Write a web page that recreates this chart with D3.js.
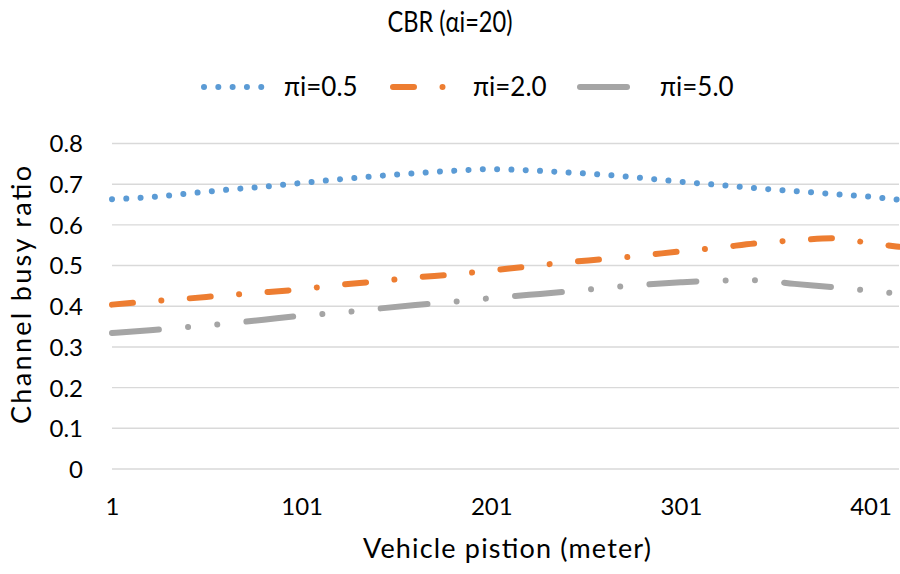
<!DOCTYPE html>
<html>
<head>
<meta charset="utf-8">
<script src="https://cdn.jsdelivr.net/npm/d3@7"></script>
<style>
  body { margin: 0; background: #fff; }
  svg { display: block; font-family: Lato, "Open Sans", sans-serif; }
</style>
</head>
<body>
<svg id="chart" width="900" height="574"></svg>
<script>
// vehicle position (meter) sample points
const positions = [1, 21, 41, 61, 81, 101, 121, 141, 161, 181, 201, 221, 241, 261, 281, 301, 321, 341, 361, 381, 401, 416];

// channel busy ratio per pi value
const pi05 = [0.663, 0.668, 0.677, 0.686, 0.694, 0.703, 0.712, 0.720, 0.727, 0.733, 0.737, 0.734, 0.729, 0.723, 0.715, 0.706, 0.698, 0.690, 0.683, 0.676, 0.669, 0.662];
const pi20 = [0.404, 0.412, 0.419, 0.427, 0.434, 0.442, 0.453, 0.461, 0.471, 0.478, 0.488, 0.498, 0.508, 0.516, 0.525, 0.535, 0.544, 0.555, 0.562, 0.567, 0.555, 0.546];
const pi50 = [0.334, 0.341, 0.349, 0.357, 0.367, 0.377, 0.384, 0.394, 0.403, 0.411, 0.420, 0.428, 0.436, 0.445, 0.453, 0.459, 0.463, 0.464, 0.455, 0.447, 0.438, 0.431];

const seriesNames = ["\u03c0i=0.5", "\u03c0i=2.0", "\u03c0i=5.0"];
const xTicks = [1, 101, 201, 301, 401];
const yTicks = [0, 0.1, 0.2, 0.3, 0.4, 0.5, 0.6, 0.7, 0.8];

const width = 900;
const height = 574;

let svg = d3.select("#chart");

let x = d3.scaleLinear().domain([1, 416]).range([112, 899]);
let y = d3.scaleLinear().domain([0, 0.8]).range([469, 143.5]);

// line look for each series (Excel-like dash styles)
const styles = [
    { color: "#5b9bd5", dash: "0.01,14.3" },
    { color: "#ed7d31", dash: "21,28.5,0.01,28.5" },
    { color: "#a5a5a5", dash: "47,29.3,0.01,29.3,0.01,29.3" }
];

// title
svg.append("text")
    .attr("x", 450).attr("y", 32)
    .attr("text-anchor", "middle")
    .attr("font-size", 28)
    .attr("textLength", 125)
    .attr("lengthAdjust", "spacingAndGlyphs")
    .attr("fill", "#000")
    .text("CBR (\u03b1i=20)");

// gridlines
svg.append("g").selectAll("line")
    .data(yTicks)
    .enter().append("line")
    .attr("x1", 112).attr("x2", 899)
    .attr("y1", d => y(d)).attr("y2", d => y(d))
    .attr("stroke", "#d9d9d9")
    .attr("stroke-width", 1.4);

// y axis labels
let yAxis = d3.axisLeft(y).tickValues(yTicks).tickSize(0).tickPadding(0)
    .tickFormat(d => d === 0 ? "0" : d3.format(".1f")(d));
let yg = svg.append("g").attr("transform", "translate(83,0)").call(yAxis);
yg.select(".domain").remove();
yg.selectAll("text").attr("font-size", 24).attr("font-family", "Lato").attr("fill", "#000").attr("dy", "0.35em");

// x axis labels
let xAxis = d3.axisBottom(x).tickValues(xTicks).tickSize(0).tickPadding(0).tickFormat(d3.format("d"));
let xg = svg.append("g").attr("transform", "translate(0,497)").call(xAxis);
xg.select(".domain").remove();
xg.selectAll("text").attr("font-size", 24).attr("font-family", "Lato").attr("fill", "#000").attr("dy", "0.75em");

// axis titles
svg.append("text")
    .attr("x", 507).attr("y", 558)
    .attr("text-anchor", "middle")
    .attr("font-size", 27)
    .attr("textLength", 288)
    .attr("lengthAdjust", "spacing")
    .text("Vehicle pistion (meter)");

svg.append("text")
    .attr("transform", "translate(31,295) rotate(-90)")
    .attr("text-anchor", "middle")
    .attr("font-size", 27)
    .attr("textLength", 258)
    .attr("lengthAdjust", "spacing")
    .text("Channel busy ratio");

// series
let line = d3.line()
    .x((d, i) => x(positions[i]))
    .y(d => y(d))
    .curve(d3.curveMonotoneX);

[pi05, pi20, pi50].forEach((vals, i) => {
    svg.append("path")
        .attr("d", line(vals))
        .attr("fill", "none")
        .attr("stroke", styles[i].color)
        .attr("stroke-width", 6)
        .attr("stroke-linecap", "round")
        .attr("stroke-dasharray", styles[i].dash);
});

// legend
const legendX = [204, 393, 580];
let legend = svg.append("g");
seriesNames.forEach((name, i) => {
    legend.append("line")
        .attr("x1", legendX[i]).attr("x2", legendX[i] + 58)
        .attr("y1", 87).attr("y2", 87)
        .attr("stroke", styles[i].color)
        .attr("stroke-width", 6)
        .attr("stroke-linecap", "round")
        .attr("stroke-dasharray", styles[i].dash);
    legend.append("text")
        .attr("x", legendX[i] + 80).attr("y", 96)
        .attr("font-size", 26)
        .text(name);
});
</script>
</body>
</html>
